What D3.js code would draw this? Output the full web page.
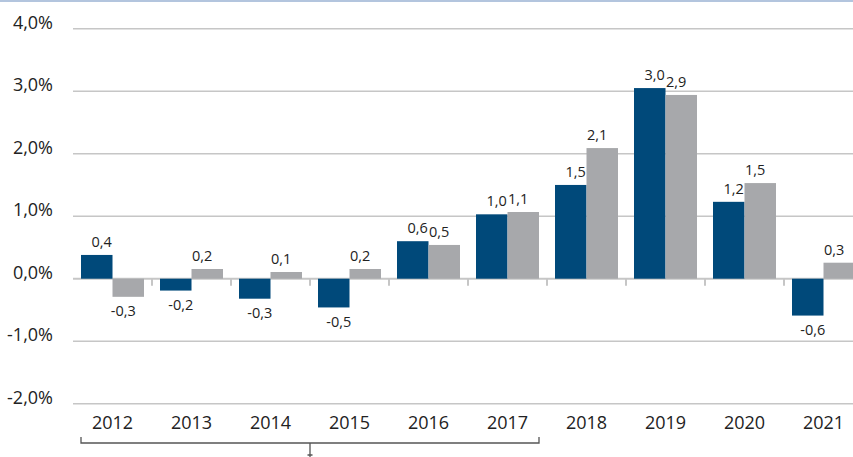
<!DOCTYPE html>
<html>
<head>
<meta charset="utf-8">
<script src="https://cdn.jsdelivr.net/npm/d3@7"></script>
<style>
  body { margin: 0; background: #fff; }
  svg { display: block; font-family: "Open Sans", sans-serif; }
</style>
</head>
<body>
<div id="chart"></div>
<script>
// years on the x axis
const years = ["2012", "2013", "2014", "2015", "2016", "2017", "2018", "2019", "2020", "2021"];
// bar heights (in %)
const seriesDark = [0.38, -0.19, -0.32, -0.46, 0.60, 1.03, 1.50, 3.05, 1.23, -0.59];
const seriesGray = [-0.29, 0.155, 0.107, 0.155, 0.54, 1.067, 2.09, 2.94, 1.53, 0.256];
// printed labels above / below the bars
const labelsDark = ["0,4", "-0,2", "-0,3", "-0,5", "0,6", "1,0", "1,5", "3,0", "1,2", "-0,6"];
const labelsGray = ["-0,3", "0,2", "0,1", "0,2", "0,5", "1,1", "2,1", "2,9", "1,5", "0,3"];
const yTicks = [-2, -1, 0, 1, 2, 3, 4];
const yTickLabels = ["-2,0%", "-1,0%", "0,0%", "1,0%", "2,0%", "3,0%", "4,0%"];
const bracketYears = ["2012", "2017"];

const width = 853, height = 457;
const darkColor = "#00497a", grayColor = "#a7a8ab";

const svg = d3.select("#chart")
  .append("svg")
  .attr("width", width)
  .attr("height", height);

const x = d3.scaleBand()
  .domain(years)
  .range([73, 863]);

const xSub = d3.scaleBand()
  .domain(["dark", "gray"])
  .range([0, x.bandwidth()])
  .paddingOuter(0.254);

const y = d3.scaleLinear()
  .domain([-2, 4])
  .range([403.7, 28.7]);

// thin light blue rule at the very top
svg.append("rect")
  .attr("x", 0).attr("y", 0)
  .attr("width", width).attr("height", 2)
  .attr("fill", "#b3c5de");

// gridlines + y labels
svg.append("g")
  .selectAll("line")
  .data(yTicks)
  .join("line")
  .attr("x1", 73).attr("x2", width)
  .attr("y1", d => y(d)).attr("y2", d => y(d))
  .attr("stroke", "#c6c6c6")
  .attr("stroke-width", d => d === 0 ? 2 : 1.5);

svg.append("g")
  .selectAll("text")
  .data(yTicks)
  .join("text")
  .attr("x", 53)
  .attr("y", d => y(d))
  .attr("text-anchor", "end")
  .attr("font-size", 18)
  .attr("fill", "#222")
  .text((d, i) => yTickLabels[i]);

// small ticks on the zero line between categories
svg.append("g")
  .selectAll("line")
  .data(years.slice(1))
  .join("line")
  .attr("x1", d => x(d)).attr("x2", d => x(d))
  .attr("y1", y(0)).attr("y2", y(0) + 7)
  .attr("stroke", "#c6c6c6")
  .attr("stroke-width", 2);

// bars
const rows = years.map((yr, i) => ({
  year: yr,
  vals: [
    { key: "dark", v: seriesDark[i], label: labelsDark[i], shift: 5 },
    { key: "gray", v: seriesGray[i], label: labelsGray[i], shift: -5 }
  ]
}));

const groups = svg.append("g")
  .selectAll("g")
  .data(rows)
  .join("g")
  .attr("transform", d => `translate(${x(d.year)},0)`);

groups.selectAll("rect")
  .data(d => d.vals)
  .join("rect")
  .attr("x", d => xSub(d.key))
  .attr("width", xSub.bandwidth())
  .attr("y", d => y(Math.max(0, d.v)))
  .attr("height", d => Math.abs(y(d.v) - y(0)))
  .attr("fill", d => d.key === "dark" ? darkColor : grayColor);

groups.selectAll("text")
  .data(d => d.vals)
  .join("text")
  .attr("x", d => xSub(d.key) + xSub.bandwidth() / 2 + d.shift)
  .attr("y", d => d.v >= 0 ? y(d.v) - 8 : y(d.v) + 19.5)
  .attr("text-anchor", "middle")
  .attr("font-size", 14.5)
  .attr("fill", "#222")
  .text(d => d.label);

// x labels
svg.append("g")
  .selectAll("text")
  .data(years)
  .join("text")
  .attr("x", d => x(d) + x.bandwidth() / 2)
  .attr("y", 428.5)
  .attr("text-anchor", "middle")
  .attr("font-size", 18)
  .attr("fill", "#222")
  .text(d => d);

// bracket under 2012-2017
const bx1 = x(bracketYears[0]) + 8,
    bx2 = x(bracketYears[1]) + x.bandwidth() - 8,
    by = 443,
    bmid = (bx1 + bx2) / 2;

svg.append("path")
  .attr("d", `M${bx1},${by - 6}V${by}H${bx2}V${by - 6}M${bmid},${by}V${by + 9}`)
  .attr("fill", "none")
  .attr("stroke", "#555")
  .attr("stroke-width", 1.3);

svg.append("path")
  .attr("d", `M${bmid - 2.5},${by + 12}H${bmid + 2.5}M${bmid},${by + 9}V${height}`)
  .attr("fill", "none")
  .attr("stroke", "#555")
  .attr("stroke-width", 1.3);
</script>
</body>
</html>
